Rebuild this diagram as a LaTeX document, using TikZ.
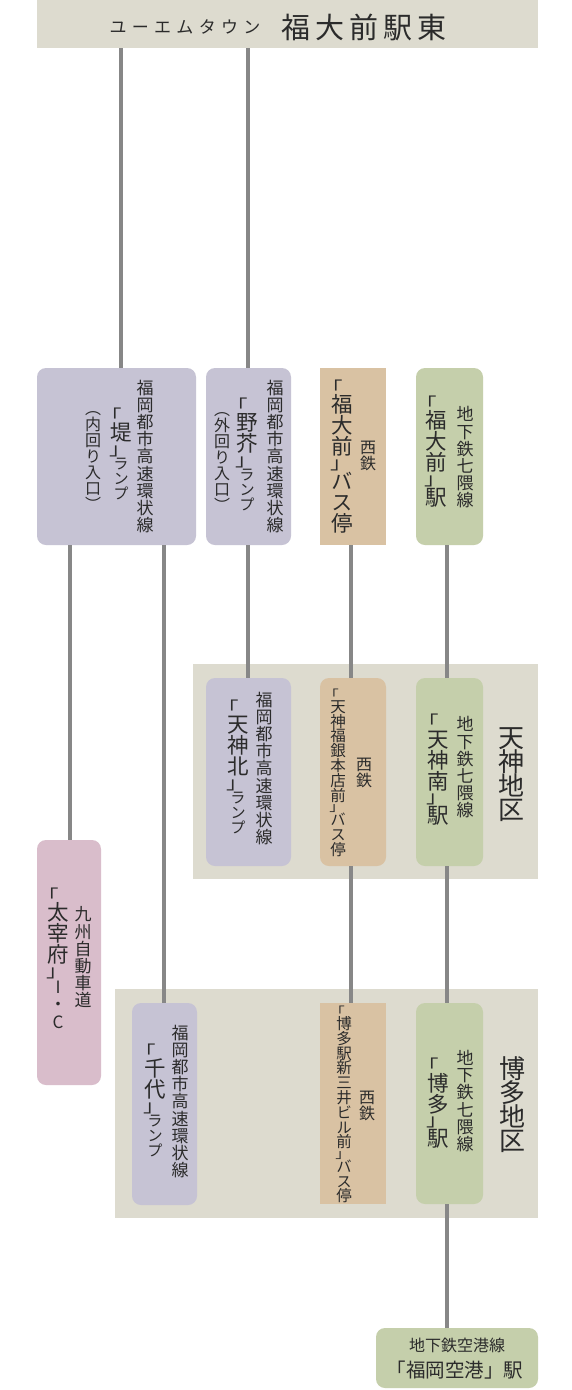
\documentclass[tikz,border=0pt]{standalone}
\usepackage{fontspec}
\usepackage{graphicx}
\usetikzlibrary{fit}
\newfontfamily\hjp{Noto Sans CJK JP}
\newfontfamily\vjp[RawFeature=+vert]{Noto Sans CJK JP}
\definecolor{areabg}{HTML}{DDDBCF}
\definecolor{rampc}{HTML}{C6C3D4}
\definecolor{busc}{HTML}{D9C2A3}
\definecolor{subc}{HTML}{C5CFAB}
\definecolor{icc}{HTML}{D9BDCB}
\definecolor{linec}{HTML}{878787}
\definecolor{txt}{HTML}{2B2B2B}
\newdimen\vpitch
\newdimen\htk
\newcommand\vS{\fontsize{17pt}{17pt}\selectfont\vpitch=17.2pt\relax}
\newcommand\vM{\fontsize{16pt}{16pt}\selectfont\vpitch=16pt\relax}
\newcommand\vK{\fontsize{15.5pt}{15.5pt}\selectfont\vpitch=14.8pt\relax}
\newcommand\vL{\fontsize{21.5pt}{21.5pt}\selectfont\vpitch=21pt\relax}
\newcommand\vX{\fontsize{26pt}{26pt}\selectfont\vpitch=24pt\relax}
\makeatletter
\def\vt@end{\vt@end}
\def\vt@#1{%
  \ifx#1\vt@end\let\vt@next\relax
  \else\ifcat\noexpand#1\relax\def\vt@next{#1\vt@}%
  \else\def\vt@next{\vt@cell{#1}\vt@}%
  \fi\fi\vt@next}
\def\vt@full#1{\vbox to\vpitch{\vss\hbox to0pt{\hss\smash{#1}\hss}\kern\dimexpr(\vpitch-1em)/2+0.12em\relax}}
\def\vt@open#1{\vbox to.5em{\vss\hbox to0pt{\hss\smash{#1}\hss}\kern.12em}}
\def\vt@close#1{\vbox to.5em{\kern.88em\hbox to0pt{\hss\smash{#1}\hss}\vss}}
\def\vt@obr#1{\vbox to.62em{\vss\hbox to0pt{\hss\hjp\smash{\scalebox{1}[.8]{#1}}\kern.9em\hss}}}
\def\vt@cbr#1{\vbox to.62em{\vss\hbox to0pt{\hss\hjp\smash{\scalebox{1}[.8]{#1}}\kern.1em\hss}\kern.04em}}
\def\vt@cell#1{%
  \ifx#1「\vt@obr{#1}\else
  \ifx#1」\vt@cbr{#1}\else
  \ifx#1（\vt@open{#1}\else
  \ifx#1）\vt@close{#1}\else
  \vt@full{#1}\fi\fi\fi\fi}
\newcommand\vtext[1]{\vbox{\offinterlineskip\vjp\vt@#1\vt@end}}
\def\ht@#1{\ifx#1\vt@end\else#1\kern\htk\expandafter\ht@\fi}
\newcommand\htrack[2]{\htk=#1\relax\ht@#2\vt@end\unkern}
\makeatother
\begin{document}
\begin{tikzpicture}[x=1pt,y=-1pt,
  every node/.style={inner sep=0pt,outer sep=0pt},
  area/.style={fill=areabg},
  ramp/.style={fill=rampc,rounded corners=9pt},
  bus/.style={fill=busc},
  busr/.style={fill=busc,rounded corners=9pt},
  sub/.style={fill=subc,rounded corners=9pt},
  ic/.style={fill=icc,rounded corners=9pt},
  conn/.style={draw=linec,line width=3.2pt},
  vt/.style={text=txt,anchor=center},
  ht/.style={text=txt,anchor=center,font=\hjp},
]
\useasboundingbox (0,0) rectangle (572,1390);
\fill[white] (0,0) rectangle (572,1390);
% areas
\node[area,fit={(37,0) (538,48)}] (hdr) {};
\node[area,fit={(193,664) (538,879)}] (tenjin) {};
\node[area,fit={(115,989) (538,1218)}] (hakata) {};
% boxes
\node[ramp,fit={(37,368) (196,545)}] (A) {};
\node[ramp,fit={(206,368) (291,545)}] (B) {};
\node[bus,fit={(320,368) (386,545)}] (C) {};
\node[sub,fit={(416,368) (483,545)}] (D) {};
\node[ramp,fit={(206,678) (291,866)}] (E) {};
\node[busr,fit={(320,678) (386,866)}] (F) {};
\node[sub,fit={(416,678) (483,866)}] (G) {};
\node[ic,fit={(37,840) (101,1085)}] (H) {};
\node[ramp,fit={(132,1003) (197,1205)}] (I) {};
\node[bus,fit={(320,1003) (386,1204)}] (J) {};
\node[sub,fit={(416,1003) (483,1204)}] (K) {};
\node[sub,fit={(376,1328) (538,1388)}] (L) {};
% connector x positions
\coordinate (x70) at (70,0);
\coordinate (x121) at (121,0);
\coordinate (x164) at (164,0);
\coordinate (x248) at (248,0);
\coordinate (x351) at (351,0);
\coordinate (x447) at (447,0);
\draw[conn] (hdr.south -| x121) -- (A.north -| x121);
\draw[conn] (hdr.south -| x248) -- (B.north -| x248);
\draw[conn] (A.south -| x70) -- (H.north -| x70);
\draw[conn] (A.south -| x164) -- (I.north -| x164);
\draw[conn] (B.south -| x248) -- (E.north -| x248);
\draw[conn] (C.south -| x351) -- (F.north -| x351);
\draw[conn] (F.south -| x351) -- (J.north -| x351);
\draw[conn] (D.south -| x447) -- (G.north -| x447);
\draw[conn] (G.south -| x447) -- (K.north -| x447);
\draw[conn] (K.south -| x447) -- (L.north -| x447);
% header
\node[ht] (h1) at (185,27) {\fontsize{17pt}{17pt}\selectfont\htrack{5.3pt}{ユーエムタウン}};
\node[ht] (h2) at (364,27) {\fontsize{29pt}{29pt}\selectfont\htrack{5.2pt}{福大前駅東}};
% box A
\node[vt] (a1) at (145,456.5) {\vtext{\vS 福岡都市高速環状線}};
\node[vt] (a2) at (121,455) {\vtext{\vL「堤」\vK ランプ}};
\node[vt] (a3) at (93,456.5) {\vtext{\vM（内回り入口）}};
% box B
\node[vt] (b1) at (275,456.5) {\vtext{\vS 福岡都市高速環状線}};
\node[vt] (b2) at (247,455.5) {\vtext{\vL「野芥」\vK ランプ}};
\node[vt] (b3) at (222,457) {\vtext{\vM（外回り入口）}};
% box C
\node[vt] (c1) at (368,455) {\vtext{\vM 西鉄}};
\node[vt] (c2) at (342,457) {\vtext{\vL「福大前」バス停}};
% box D
\node[vt] (d1) at (465,457.5) {\vtext{\vS 地下鉄七隈線}};
\node[vt] (d2) at (436,452) {\vtext{\vL「福大前」駅}};
% box E
\node[vt] (e1) at (264,768.5) {\vtext{\vS 福岡都市高速環状線}};
\node[vt] (e2) at (238,768) {\vtext{\vL「天神北」\vK ランプ}};
% box F
\node[vt] (f1) at (364,772) {\vtext{\vM 西鉄}};
\node[vt] (f2) at (338,773) {\vtext{\vK「天神福銀本店前」バス停}};
% box G
\node[vt] (g1) at (465,767.5) {\vtext{\vS 地下鉄七隈線}};
\node[vt] (g2) at (438,770.5) {\vtext{\vL「天神南」駅}};
\node[vt] (tj) at (511,774) {\vtext{\vX 天神地区}};
% box H
\node[vt] (h1c) at (83,957.5) {\vtext{\vS 九州自動車道}};
\node[vt] (h2c) at (58,959.5) {\vtext{\vL「太宰府」\vS I・C}};
% box I
\node[vt] (i1) at (180,1101.5) {\vtext{\vS 福岡都市高速環状線}};
\node[vt] (i2) at (155,1101.5) {\vtext{\vL「千代」\vK ランプ}};
% box J
\node[vt] (j1) at (367,1105) {\vtext{\vM 西鉄}};
\node[vt] (j2) at (344,1105) {\vtext{\vK「博多駅新三井ビル前」バス停}};
% box K
\node[vt] (k1) at (465,1101) {\vtext{\vS 地下鉄七隈線}};
\node[vt] (k2) at (438,1104) {\vtext{\vL「博多」駅}};
\node[vt] (hk) at (512,1105) {\vtext{\vX 博多地区}};
% box L
\node[ht] (l1) at (457,1345) {\fontsize{16pt}{16pt}\selectfont 地下鉄空港線};
\node[ht] (l2) at (455,1370) {\fontsize{19.5pt}{19.5pt}\selectfont 「福岡空港」駅};
\end{tikzpicture}
\end{document}
